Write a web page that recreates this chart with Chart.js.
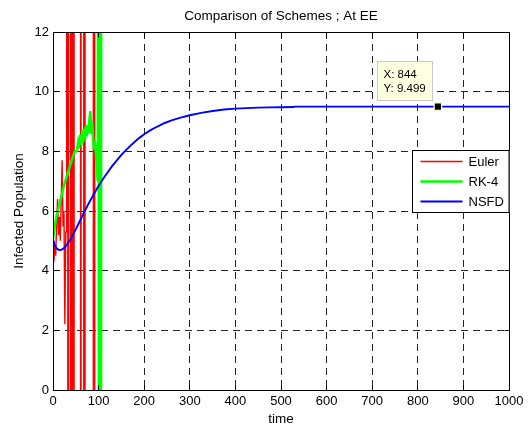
<!DOCTYPE html>
<html>
<head>
<meta charset="utf-8">
<script src="https://cdn.jsdelivr.net/npm/chart.js@4/dist/chart.umd.min.js"></script>
<style>
  html, body { margin: 0; padding: 0; background: #ffffff; }
  #wrap { width: 531px; height: 427px; }
</style>
</head>
<body>
<div id="wrap"><canvas id="c" width="531" height="427"></canvas></div>
<script>
// Explicit Euler: oscillates and blows up early on
const eulerT = [0, 2, 4, 6, 8, 10, 12, 14, 16, 18, 20, 22, 24, 26, 28, 30, 32, 33, 34, 36, 38, 39, 40, 42, 43, 44, 45, 46, 47, 60, 61, 62, 67, 68, 69, 70, 71, 88, 89, 90, 91, 92];
const eulerY = [5.0, 4.3, 4.9, 4.5, 5.6, 6.4, 5.2, 5.8, 5.0, 6.3, 7.7, 5.5, 6.0, 2.2, 5.3, 5.3, 200, -200, 250, 300, 280, -300, -320, 350, -400, 380, -420, -440, 450, 500, -500, 520, 540, -560, 580, -600, 620, 700, -720, 750, -800, 900];

// Runge-Kutta 4: noisy growth, then diverges near t = 100
const rk4T = [0, 4, 8, 12, 16, 20, 24, 28, 32, 36, 40, 44, 48, 52, 55, 57, 60, 62, 64, 66, 68, 70, 72, 74, 76, 78, 80, 82, 84, 86, 88, 90, 92, 94, 96, 98, 100, 101, 102, 103, 104, 105, 106];
const rk4Y = [5.05, 5.5, 5.85, 6.1, 6.35, 6.6, 6.85, 7.05, 7.25, 7.45, 7.65, 7.85, 8.0, 8.0, 8.3, 8.1, 8.55, 8.2, 8.7, 8.3, 8.75, 8.4, 8.85, 8.5, 8.9, 8.6, 9.1, 9.35, 8.6, 9.0, 8.4, 8.1, 8.3, 7.9, 7.6, 7.0, 25, -20, 35, -30, 45, -40, 55];

// Non-standard finite difference scheme: smooth approach to the endemic level
const nsfdT = [0, 4, 8, 12, 16, 20, 25, 30, 35, 40, 45, 50, 55, 60, 65, 70, 75, 80, 85, 90, 95, 100, 110, 120, 130, 140, 150, 160, 170, 180, 190, 200, 215, 230, 245, 260, 280, 300, 325, 350, 375, 400, 425, 450, 475, 500, 528, 530, 600, 700, 800, 844, 900, 1000];
const nsfdY = [5.03, 4.86, 4.75, 4.70, 4.69, 4.71, 4.77, 4.86, 4.97, 5.10, 5.24, 5.39, 5.54, 5.70, 5.85, 6.01, 6.16, 6.30, 6.44, 6.58, 6.71, 6.84, 7.08, 7.30, 7.51, 7.70, 7.88, 8.04, 8.19, 8.33, 8.46, 8.57, 8.72, 8.84, 8.95, 9.04, 9.13, 9.21, 9.29, 9.35, 9.40, 9.43, 9.45, 9.465, 9.475, 9.48, 9.485, 9.499, 9.499, 9.499, 9.499, 9.499, 9.499, 9.499];

// Data tip on the NSFD curve
const tipX = [844];
const tipY = [9.499];

// Axis ticks
const xTicks = [0, 100, 200, 300, 400, 500, 600, 700, 800, 900, 1000];
const yTicks = [0, 2, 4, 6, 8, 10, 12];

const legendLabels = ['Euler', 'RK-4', 'NSFD'];

const FAMILY = "'Liberation Sans', Arial, Helvetica, sans-serif";
const tickFont = { family: FAMILY, size: 13 };
const labelFont = { family: FAMILY, size: 13.5 };
const gridColor = 'rgba(0,0,0,0.85)';

const toPoints = (ts, ys) => ts.map((t, i) => ({ x: t, y: ys[i] }));

function alignPx(p) { return Math.round(p - 0.5) + 0.5; }

// Axes box with inward tick marks on all four sides
const framePlugin = {
  id: 'frame',
  afterDatasetsDraw(chart) {
    const { ctx, chartArea: a, scales: { x, y } } = chart;
    const L = alignPx(a.left), R = alignPx(a.right), T = alignPx(a.top), B = alignPx(a.bottom);
    ctx.save();
    ctx.strokeStyle = '#000';
    ctx.lineWidth = 1;
    ctx.setLineDash([]);
    ctx.beginPath();
    xTicks.forEach(v => {
      const px = alignPx(x.getPixelForValue(v));
      ctx.moveTo(px, B); ctx.lineTo(px, B - 5);
      ctx.moveTo(px, T); ctx.lineTo(px, T + 5);
    });
    yTicks.forEach(v => {
      const py = alignPx(y.getPixelForValue(v));
      ctx.moveTo(L, py); ctx.lineTo(L + 5, py);
      ctx.moveTo(R, py); ctx.lineTo(R - 5, py);
    });
    ctx.rect(L, T, R - L, B - T);
    ctx.stroke();
    ctx.restore();
  }
};

// Boxed legend inside the plot, upper right
const boxLegendPlugin = {
  id: 'boxLegend',
  afterDatasetsDraw(chart) {
    const { ctx, chartArea: a } = chart;
    const items = legendLabels.map(l => chart.data.datasets.find(d => d.label === l));
    const w = 97, h = 62;
    const left = alignPx(a.right - w), top = alignPx(a.top + 118);
    ctx.save();
    ctx.fillStyle = '#ffffff';
    ctx.fillRect(left, top, w, h);
    ctx.strokeStyle = '#000';
    ctx.lineWidth = 1;
    ctx.strokeRect(left, top, w - 0.5, h);
    ctx.font = `13px ${FAMILY}`;
    ctx.textBaseline = 'middle';
    ctx.textAlign = 'left';
    items.forEach((ds, i) => {
      const yy = top + 11 + i * 20;
      ctx.beginPath();
      ctx.strokeStyle = ds.borderColor;
      ctx.lineWidth = ds.borderWidth;
      ctx.moveTo(left + 8, yy);
      ctx.lineTo(left + 50, yy);
      ctx.stroke();
      ctx.fillStyle = '#000';
      ctx.fillText(ds.label, left + 56, yy + 1);
    });
    ctx.restore();
  }
};

// Data tip label next to the marked point
const dataTipPlugin = {
  id: 'dataTip',
  afterDatasetsDraw(chart) {
    const { ctx, scales: { x, y } } = chart;
    tipX.forEach((tx, i) => {
      const mx = x.getPixelForValue(tx), my = y.getPixelForValue(tipY[i]);
      const w = 55, h = 39;
      const right = Math.round(mx - 6) + 0.5, bottom = Math.round(my - 7) + 0.5;
      const left = right - w, top = bottom - h;
      ctx.save();
      ctx.fillStyle = '#ffffe1';
      ctx.fillRect(left, top, w, h);
      ctx.strokeStyle = '#c8c8c8';
      ctx.lineWidth = 1;
      ctx.strokeRect(left, top, w, h);
      ctx.fillStyle = '#000';
      ctx.font = `11.5px ${FAMILY}`;
      ctx.textBaseline = 'middle';
      ctx.textAlign = 'left';
      ctx.fillText('X: ' + tx, left + 6, top + 13);
      ctx.fillText('Y: ' + tipY[i], left + 6, top + 27);
      ctx.restore();
    });
  }
};

new Chart(document.getElementById('c'), {
  type: 'line',
  data: {
    datasets: [
      {
        label: 'Euler',
        data: toPoints(eulerT, eulerY),
        borderColor: '#ff0000',
        borderWidth: 1.4,
        pointRadius: 0,
        tension: 0,
        fill: false,
        order: 4
      },
      {
        label: 'RK-4',
        data: toPoints(rk4T, rk4Y),
        borderColor: '#00ff00',
        borderWidth: 2.5,
        pointRadius: 0,
        tension: 0,
        fill: false,
        order: 3
      },
      {
        label: 'NSFD',
        data: toPoints(nsfdT, nsfdY),
        borderColor: '#0000ff',
        borderWidth: 1.9,
        pointRadius: 0,
        tension: 0,
        fill: false,
        order: 2
      },
      {
        label: 'tip',
        data: toPoints(tipX, tipY),
        showLine: false,
        pointStyle: 'rect',
        pointRadius: 5.2,
        pointBackgroundColor: '#000000',
        pointBorderColor: '#ffffcc',
        pointBorderWidth: 1.2,
        order: 1
      }
    ]
  },
  options: {
    responsive: false,
    animation: false,
    devicePixelRatio: 1,
    events: [],
    layout: { padding: { left: 0, right: 22, top: 0, bottom: 0 } },
    plugins: {
      legend: { display: false },
      tooltip: { enabled: false },
      title: {
        display: true,
        fullSize: false,
        text: 'Comparison of Schemes ; At EE',
        color: '#000',
        font: { family: FAMILY, size: 13.5, weight: 'normal' },
        padding: { top: 8, bottom: 7.8 }
      }
    },
    scales: {
      x: {
        type: 'linear',
        min: 0,
        max: 1000,
        afterBuildTicks: s => { s.ticks = xTicks.map(v => ({ value: v })); },
        afterFit: s => { s.height = 37; },
        ticks: { callback: v => String(v), font: tickFont, color: '#000', padding: 4, maxRotation: 0, autoSkip: false },
        grid: { color: gridColor, lineWidth: 1, drawTicks: false },
        border: { display: false, dash: [7, 5] },
        title: { display: true, text: 'time', color: '#000', font: labelFont, padding: { top: 0, bottom: 0 } }
      },
      y: {
        type: 'linear',
        min: 0,
        max: 12,
        afterBuildTicks: s => { s.ticks = yTicks.map(v => ({ value: v })); },
        afterFit: s => { s.width = 53; },
        ticks: { callback: v => String(v), font: tickFont, color: '#000', padding: 4, autoSkip: false },
        grid: { color: gridColor, lineWidth: 1, drawTicks: false },
        border: { display: false, dash: [7, 5] },
        title: { display: true, text: 'Infected Population', color: '#000', font: labelFont, padding: { top: 11, bottom: 0 } }
      }
    }
  },
  plugins: [framePlugin, boxLegendPlugin, dataTipPlugin]
});
</script>
</body>
</html>
